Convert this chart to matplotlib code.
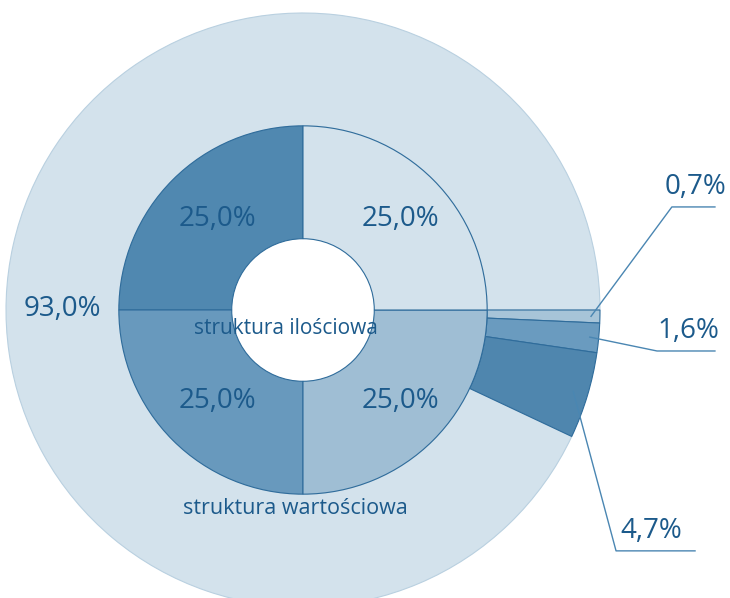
import numpy as np
import matplotlib
matplotlib.use("Agg")
import matplotlib.pyplot as plt

plt.rcParams["font.family"] = ["Open Sans", "DejaVu Sans"]

# outer ring - struktura wartościowa
outer_values = [0.7, 1.6, 4.7, 93.0]
outer_colors = ["#a7c4d8", "#6a9bbf", "#4f86ae", "#d3e2ec"]

# inner ring - struktura ilościowa
inner_values = [25.0, 25.0, 25.0, 25.0]
inner_colors = ["#5088b0", "#6899bd", "#9fbed4", "#d3e2ec"]

text_color = "#1c5a8b"
line_color = "#4a86b2"
edge_color = "#2f6c9b"

fig = plt.figure(figsize=(7.30, 5.98), dpi=100)
ax = fig.add_axes([0, 0, 1, 1])

r_outer = 1.0
r_mid = 0.62
r_hole = 0.24

wedges_out, _ = ax.pie(outer_values, radius=r_outer, colors=outer_colors,
                       startangle=0, counterclock=False,
                       wedgeprops=dict(width=r_outer - r_mid, edgecolor=edge_color, linewidth=0.8))
# big slice gets a soft outline only
wedges_out[-1].set_edgecolor("#b9d0e0")
wedges_out[-1].set_linewidth(0.8)
for w in wedges_out[:-1]:
    w.set_zorder(3)

wedges_in, _, autotexts = ax.pie(inner_values, radius=r_mid, colors=inner_colors,
                                 startangle=90, counterclock=True,
                                 autopct=lambda p: f"{p:.1f}%".replace(".", ","),
                                 pctdistance=0.7,
                                 wedgeprops=dict(width=r_mid - r_hole, edgecolor=edge_color, linewidth=0.8),
                                 textprops=dict(color=text_color, fontsize=20))
for w in wedges_in:
    w.set_zorder(4)
for t in autotexts:
    x, y = t.get_position()
    t.set_position((x + 0.02, y))
    t.set_zorder(6)

# 93% label on the left of the big slice
ax.text(-0.81, 0.003, f"{outer_values[3]:.1f}%".replace(".", ","), color=text_color,
        fontsize=20, ha="center", va="center", zorder=6)

# leader lines for the small slices
label_layout = [
    # (radius of anchor, elbow x, elbow y, underline end x, label x)
    (0.97, 1.242, 0.347, 1.387, 1.323),
    (0.97, 1.192, -0.138, 1.387, 1.296),
    (0.95, 1.054, -0.811, 1.320, 1.172),
]
cum = 0.0
for val, (ra, ex, ey, ux, tx) in zip(outer_values[:3], label_layout):
    mid = -(cum + val / 2) / 100 * 360
    cum += val
    ax_x = ra * np.cos(np.radians(mid))
    ax_y = ra * np.sin(np.radians(mid))
    ax.plot([ax_x, ex, ux], [ax_y, ey, ey], color=line_color, lw=1.0, zorder=7)
    ax.text(tx, ey + 0.02, f"{val:.1f}%".replace(".", ","),
            color=text_color, fontsize=20, ha="center", va="bottom", zorder=7)

ax.text(-0.057, -0.061, "struktura ilościowa", color=text_color, fontsize=15,
        ha="center", va="center", zorder=8)
ax.text(-0.024, -0.667, "struktura wartościowa", color=text_color, fontsize=15.5,
        ha="center", va="center", zorder=8)

ax.set_xlim(-303 / 297, 427 / 297)
ax.set_ylim(-288 / 297, 310 / 297)
ax.set_aspect("equal")
ax.axis("off")

fig.savefig("out.png", dpi=100, facecolor="white")
